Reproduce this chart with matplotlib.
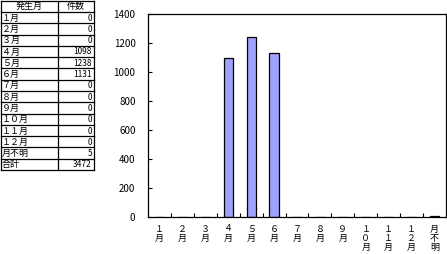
import matplotlib
matplotlib.use("Agg")
import matplotlib.pyplot as plt
from matplotlib.lines import Line2D

plt.rcParams['font.family'] = ['Noto Sans CJK JP', 'DejaVu Sans']

months = ["１月", "２月", "３月", "４月", "５月", "６月", "７月", "８月", "９月",
          "１０月", "１１月", "１２月", "月不明"]
counts = [0, 0, 0, 1098, 1238, 1131, 0, 0, 0, 0, 0, 0, 5]
total_label = "合計"
total = 3472
header = ["発生月", "件数"]
xlabels = ["１\n月", "２\n月", "３\n月", "４\n月", "５\n月", "６\n月", "７\n月", "８\n月", "９\n月",
           "１\n０\n月", "１\n１\n月", "１\n２\n月", "月\n不\n明"]

W, H = 447, 254
fig = plt.figure(figsize=(W / 100, H / 100), dpi=100)

def fx(x):
    return x / W

def fy(y):
    return 1 - y / H

# ---- table ----
x0, xm, x1 = 0.5, 58, 94
y0, yh = 0.5, 12
nrows = len(months) + 1
y_end = 170
rh = (y_end - yh) / nrows
lw = 0.9
def hline(y, xa, xb):
    fig.add_artist(Line2D([fx(xa), fx(xb)], [fy(y), fy(y)], color='black', lw=lw))
def vline(x, ya, yb):
    fig.add_artist(Line2D([fx(x), fx(x)], [fy(ya), fy(yb)], color='black', lw=lw))

hline(y0, x0, x1)
hline(yh, x0, x1)
for i in range(nrows):
    hline(yh + rh * (i + 1), x0, x1)
vline(x0, y0, y_end)
vline(xm, y0, y_end)
vline(x1, y0, y_end)

fs_tab = 6.5
fig.text(fx((x0 + xm) / 2), fy(yh / 2 + 0.5), header[0], ha='center', va='center', fontsize=fs_tab)
fig.text(fx((xm + x1) / 2), fy(yh / 2 + 0.5), header[1], ha='center', va='center', fontsize=fs_tab)
rows = list(zip(months, counts)) + [(total_label, total)]
for i, (m, c) in enumerate(rows):
    yc = yh + rh * (i + 0.5) + 0.5
    fig.text(fx(2), fy(yc), m, ha='left', va='center', fontsize=fs_tab)
    fig.text(fx(x1 - 2), fy(yc), str(c), ha='right', va='center', fontsize=6)

# ---- chart ----
axl, axr, axt, axb = 148, 446, 14, 217
ax = fig.add_axes([fx(axl), fy(axb), (axr - axl) / W, (axb - axt) / H])
xs = list(range(len(counts)))
ax.bar(xs, counts, width=0.4, color='#a0a0ff', edgecolor='black', linewidth=0.9)
ax.set_xlim(-0.5, len(counts) - 0.5)
ax.set_ylim(0, 1400)
ax.set_yticks(range(0, 1401, 200))
ax.tick_params(axis='y', direction='in', length=3, width=0.8, labelsize=7, pad=9)
ax.set_xticks(xs)
ax.set_xticklabels(xlabels, fontsize=6.5, linespacing=1.05, va='top')
ax.tick_params(axis='x', which='major', length=0, pad=5.5)
ax.set_xticks([i + 0.5 for i in range(len(counts) - 1)], minor=True)
ax.tick_params(axis='x', which='minor', direction='in', length=3, width=0.8)
for s in ax.spines.values():
    s.set_linewidth(0.9)

fig.savefig("out.png", dpi=100)
